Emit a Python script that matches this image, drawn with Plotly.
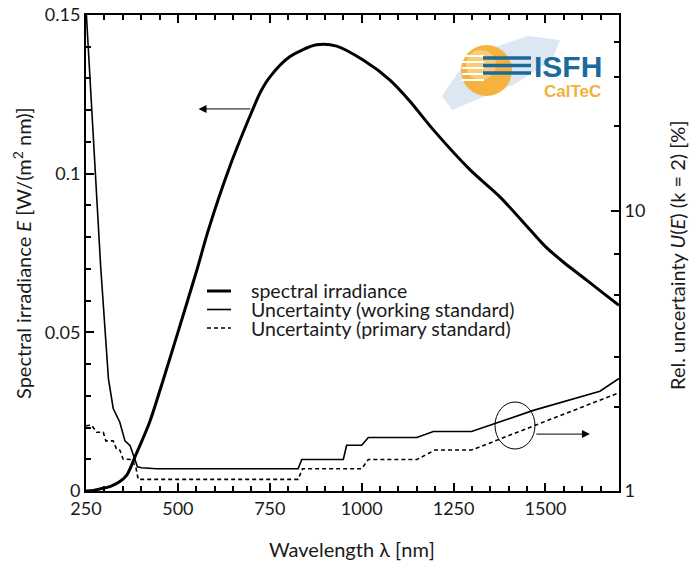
import math
import plotly.graph_objects as go

# ---------------- data ----------------
lam_E = [250, 270, 290, 315, 340, 361, 386, 424, 460, 500, 550, 583, 642, 701, 725, 751, 805,
         877, 932, 1004, 1077, 1130, 1195, 1295, 1376, 1458, 1500, 1550, 1600, 1650, 1700]
E_vals = [0, 0.0002, 0.0007, 0.0014, 0.0028, 0.005, 0.0115, 0.022, 0.035, 0.050, 0.069, 0.0823,
          0.1025, 0.1195, 0.1258, 0.1306, 0.1369, 0.1406, 0.1402, 0.1358, 0.1295, 0.123, 0.1138,
          0.1012, 0.0927, 0.0823, 0.077, 0.072, 0.0675, 0.063, 0.0585]

lam_w = [250, 270, 290, 311, 324, 342, 356, 370, 379, 390, 401, 442, 827, 837, 950, 959,
         1000, 1018, 1150, 1195, 1299, 1467, 1648, 1700]
U_work = [53, 18, 6.3, 2.52, 1.97, 1.76, 1.51, 1.45, 1.33, 1.22, 1.21, 1.20, 1.20, 1.295,
          1.295, 1.456, 1.456, 1.552, 1.552, 1.63, 1.63, 1.94, 2.27, 2.52]

lam_p = [250, 265, 279, 297, 304, 324, 333, 342, 351, 374, 386, 392, 827, 839, 1000, 1018,
         1150, 1199, 1299, 1467, 1648, 1700]
U_prim = [1.71, 1.72, 1.62, 1.62, 1.51, 1.51, 1.41, 1.40, 1.30, 1.295, 1.21, 1.10, 1.10, 1.20,
          1.20, 1.295, 1.295, 1.40, 1.40, 1.71, 2.11, 2.24]

x_ticks = [250, 500, 750, 1000, 1250, 1500]
legend_names = ["spectral irradiance", "Uncertainty (working standard)",
                "Uncertainty (primary standard)"]

# ---------------- layout geometry ----------------
W, H = 692, 563
L, R, T, B = 86, 619, 15, 491


def px(x):
    return (x - L) / (R - L)


def py(y):
    return (B - y) / (B - T)


FONT = "Lato"
TXT = "#1a1a1a"

fig = go.Figure()
fig.add_trace(go.Scatter(x=lam_E, y=E_vals, mode="lines",
                         line=dict(color="black", width=3, shape="spline", smoothing=0.8),
                         name=legend_names[0], yaxis="y"))
fig.add_trace(go.Scatter(x=lam_w, y=U_work, mode="lines", line=dict(color="black", width=1.6),
                         name=legend_names[1], yaxis="y2"))
fig.add_trace(go.Scatter(x=lam_p, y=U_prim, mode="lines", line=dict(color="black", width=1.6, dash="4px,3px"),
                         name=legend_names[2], yaxis="y2"))

shapes = []
annotations = []

# manual legend
leg_rows = [291, 309.5, 328]
leg_styles = [dict(width=3), dict(width=1.6), dict(width=1.6, dash="4px,3px")]
for name, yy, st in zip(legend_names, leg_rows, leg_styles):
    shapes.append(dict(type="line", xref="paper", yref="paper", x0=px(207), x1=px(231), y0=py(yy), y1=py(yy),
                       line=dict(color="black", **st)))
    annotations.append(dict(text=name, xref="paper", yref="paper", x=px(249), y=py(yy), xanchor="left",
                            yanchor="middle", showarrow=False, font=dict(family=FONT, size=19.5, color=TXT)))

# arrows
annotations.append(dict(x=556, y=0.1204, ax=701, ay=0.1204, xref="x", yref="y", axref="x", ayref="y",
                        text="", showarrow=True, arrowhead=2, arrowsize=1.6, arrowwidth=1, arrowcolor="black"))
u_arrow = math.log10(1.596)
annotations.append(dict(x=1621, y=u_arrow, ax=1471, ay=u_arrow, xref="x", yref="y2", axref="x", ayref="y2",
                        text="", showarrow=True, arrowhead=2, arrowsize=1.6, arrowwidth=1, arrowcolor="black"))
# ellipse
shapes.append(dict(type="circle", xref="paper", yref="paper", x0=px(495), x1=px(535), y0=py(449), y1=py(402),
                   line=dict(color="black", width=1)))

# logo approximation
shapes.append(dict(type="path", xref="paper", yref="paper",
                   path="M {} {} L {} {} L {} {} L {} {} L {} {} L {} {} L {} {} Z".format(
                       px(442), py(96), px(470), py(55), px(528), py(36), px(560), py(40),
                       px(552), py(60), px(515), py(84), px(452), py(110)),
                   fillcolor="rgba(175,205,230,0.45)", line=dict(width=0), layer="below"))
shapes.append(dict(type="circle", xref="paper", yref="paper", x0=px(461), x1=px(512), y0=py(96), y1=py(45),
                   fillcolor="#f5b23e", line=dict(width=0)))
shapes.append(dict(type="circle", xref="paper", yref="paper", x0=px(466), x1=px(496), y0=py(80), y1=py(50),
                   fillcolor="#f9cd78", line=dict(width=0)))
for yy in [56, 62, 68, 74, 80]:
    shapes.append(dict(type="line", xref="paper", yref="paper", x0=px(462), x1=px(484), y0=py(yy), y1=py(yy),
                       line=dict(color="white", width=2)))
for yy in [58, 65.5, 73]:
    shapes.append(dict(type="line", xref="paper", yref="paper", x0=px(483), x1=px(531), y0=py(yy), y1=py(yy),
                       line=dict(color="#1b6a9c", width=3.5)))
annotations.append(dict(text="<b>ISFH</b>", xref="paper", yref="paper", x=px(568), y=py(67), xanchor="center",
                        yanchor="middle", showarrow=False,
                        font=dict(family="Liberation Sans", size=30, color="#1b6a9c")))
annotations.append(dict(text="<b>CalTeC</b>", xref="paper", yref="paper", x=px(572), y=py(91), xanchor="center",
                        yanchor="middle", showarrow=False,
                        font=dict(family="Liberation Sans", size=17, color="#f0b23a")))

# axis titles
annotations.append(dict(text="Spectral irradiance <i>E</i> [W/(m<sup>2</sup> nm)]", xref="paper", yref="paper",
                        x=px(22), y=py(253), xanchor="center", yanchor="middle", textangle=-90, showarrow=False,
                        font=dict(family=FONT, size=20, color=TXT)))
annotations.append(dict(text="Rel. uncertainty <i>U</i>(<i>E</i>) (k = 2) [%]", xref="paper", yref="paper",
                        x=px(677), y=py(255), xanchor="center", yanchor="middle", textangle=-90, showarrow=False,
                        font=dict(family=FONT, size=20, color=TXT)))
annotations.append(dict(text="Wavelength λ [nm]", xref="paper", yref="paper",
                        x=px(352), y=py(549), xanchor="center", yanchor="middle", showarrow=False,
                        font=dict(family=FONT, size=20, color=TXT)))

fig.update_layout(
    width=W, height=H,
    margin=dict(l=L, r=W - R, t=T, b=H - B, pad=0, autoexpand=False),
    plot_bgcolor="white", paper_bgcolor="white",
    showlegend=False,
    font=dict(family=FONT, size=18, color=TXT),
    shapes=shapes, annotations=annotations,
    xaxis=dict(range=[250, 1700], tickvals=x_ticks, ticks="inside", ticklen=8, tickwidth=2, tickcolor="black",
               showline=True, linewidth=2, linecolor="black", mirror="ticks", showgrid=False, zeroline=False,
               automargin=False,
               minor=dict(dtick=50, ticks="inside", ticklen=5, tickwidth=1.5, tickcolor="black"),
               tickfont=dict(family=FONT, size=18, color=TXT)),
    yaxis=dict(range=[0, 0.15], dtick=0.05, ticks="inside", ticklen=8, tickwidth=2, tickcolor="black",
               showline=True, linewidth=2, linecolor="black", showgrid=False, zeroline=False,
               automargin=False,
               minor=dict(dtick=0.01, ticks="inside", ticklen=5, tickwidth=1.5, tickcolor="black"),
               tickfont=dict(family=FONT, size=18, color=TXT)),
    yaxis2=dict(type="log", range=[0, 1.69897], overlaying="y", side="right", tickvals=[1, 10],
                ticktext=["1", "10"], ticks="inside", ticklen=8, tickwidth=2, tickcolor="black",
                showline=True, linewidth=2, linecolor="black", showgrid=False, zeroline=False,
                automargin=False,
                minor=dict(tickvals=[2, 3, 5, 7, 20, 30, 40], ticks="inside", ticklen=5, tickwidth=1.5,
                           tickcolor="black"),
                tickfont=dict(family=FONT, size=18, color=TXT)),
)

fig.write_html("out.html", config={"displayModeBar": False},
               post_script="document.body.style.margin='0';document.body.style.padding='0';")
